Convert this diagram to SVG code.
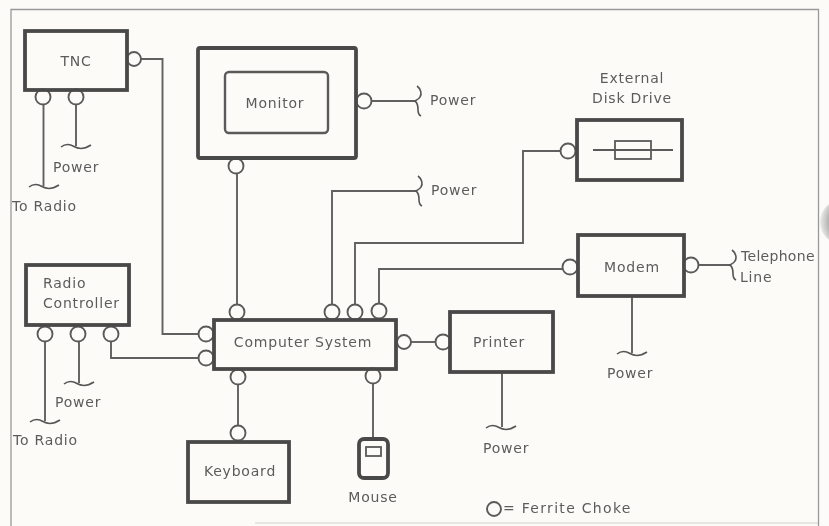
<svg xmlns="http://www.w3.org/2000/svg" width="829" height="526" viewBox="0 0 829 526">
<defs>
<filter id="soft" x="0" y="0" width="829" height="526" filterUnits="userSpaceOnUse"><feGaussianBlur stdDeviation="0.5"/></filter>
<radialGradient id="tab" cx="0.75" cy="0.5" r="0.75"><stop offset="0" stop-color="#7f7f7d"/><stop offset="0.6" stop-color="#969694"/><stop offset="1" stop-color="#ecece8"/></radialGradient>
<path id="sq" d="M-15 1c5-4 9-3 13-.5c5 3 10 3 17-1.500" fill="none"/>
<path id="brace" d="M2-15C6-12 7-7 5-4C4-2 2-1 0 0C3 2 3 6 3 9C3 12 4 14 6 15" fill="none"/>
</defs>
<style>
.box{fill:none;stroke:#4a4a4a;stroke-width:3.800}
.thin{fill:none;stroke:#5a5a5a;stroke-width:1.800}
.ln{fill:none;stroke:#606060;stroke-width:1.900;stroke-linejoin:miter}
.ck{fill:#fcfbf8;stroke:#5a5a5a;stroke-width:1.900}
use.s{stroke:#555;stroke-width:1.600}
text{font-family:"DejaVu Sans","Liberation Sans",sans-serif;font-size:14px;fill:#5c5c5c;letter-spacing:.8px}
.m{text-anchor:middle}
</style>
<rect width="829" height="526" fill="#fcfbf8"/>
<g filter="url(#soft)">
<circle cx="842" cy="222" r="22" fill="url(#tab)"/>
<path id="frame" d="M11 526V9.500H818.500V526" fill="none" stroke="#999" stroke-width="1.300"/>
<path d="M255 523H818" fill="none" stroke="#d0d0cc" stroke-width="1"/>
<g id="connectors">
<path class="ln" d="M140 59H162.500V334H200"/>
<path class="ln" d="M43.500 103V186"/>
<path class="ln" d="M76 103V146"/>
<path class="ln" d="M237 172V306"/>
<path class="ln" d="M371 101H415"/>
<path class="ln" d="M332 306V191H416"/>
<path class="ln" d="M355 306V243H523V151H561"/>
<path class="ln" d="M379 305V269H563"/>
<path class="ln" d="M698 265H731"/>
<path class="ln" d="M632 296V353"/>
<path class="ln" d="M410 342H437"/>
<path class="ln" d="M502 372V427"/>
<path class="ln" d="M238 384V427"/>
<path class="ln" d="M373 383V439"/>
<path class="ln" d="M45 341V421"/>
<path class="ln" d="M79 341V383"/>
<path class="ln" d="M111 341V358H200"/>
<use class="s" href="#sq" x="44" y="186"/>
<use class="s" href="#sq" x="76" y="146"/>
<use class="s" href="#sq" x="45" y="421"/>
<use class="s" href="#sq" x="79" y="383"/>
<use class="s" href="#sq" x="632" y="353"/>
<use class="s" href="#sq" x="501" y="427"/>
<use class="s" href="#brace" x="415" y="101"/>
<use class="s" href="#brace" x="416" y="191"/>
<use class="s" href="#brace" x="730" y="265"/>
</g>
<g id="tnc"><circle class="ck" cx="134" cy="59" r="7"/><circle class="ck" cx="43" cy="97" r="7.500"/><circle class="ck" cx="76" cy="97" r="7.500"/><rect class="box" x="25" y="31" width="102" height="59"/><text class="m" x="76" y="66">TNC</text></g>
<g id="monitor"><circle class="ck" cx="236" cy="166" r="7.500"/><circle class="ck" cx="364" cy="101" r="7.500"/><rect class="box" x="198" y="48" width="158" height="110" rx="2"/><rect class="thin" x="225" y="72" width="103" height="61" rx="4" style="stroke-width:2.400"/><text class="m" x="275" y="108">Monitor</text></g>
<g id="radio-controller"><circle class="ck" cx="45" cy="334" r="7.500"/><circle class="ck" cx="78" cy="334" r="7.500"/><circle class="ck" cx="111" cy="334" r="7.500"/><rect class="box" x="26" y="265" width="103" height="60"/><text x="43" y="288">Radio</text><text x="43" y="308">Controller</text></g>
<g id="computer-system"><circle class="ck" cx="206" cy="334" r="7.500"/><circle class="ck" cx="206" cy="358" r="7.500"/><circle class="ck" cx="237" cy="312" r="7.500"/><circle class="ck" cx="332" cy="312" r="7.500"/><circle class="ck" cx="355" cy="312" r="7.500"/><circle class="ck" cx="379" cy="311" r="7.500"/><circle class="ck" cx="404" cy="342" r="7"/><circle class="ck" cx="238" cy="377" r="7.500"/><circle class="ck" cx="373" cy="376" r="7.500"/><rect class="box" x="214" y="320" width="182" height="49"/><text class="m" x="303" y="347">Computer System</text></g>
<g id="keyboard"><circle class="ck" cx="238" cy="433" r="7.500"/><rect class="box" x="188" y="442" width="101" height="60"/><text class="m" x="240" y="476">Keyboard</text></g>
<g id="mouse"><rect class="box" x="359" y="439" width="29" height="39" rx="5"/><rect class="thin" x="366" y="447" width="15" height="9"/><text class="m" x="373" y="502">Mouse</text></g>
<g id="printer"><circle class="ck" cx="443" cy="342" r="7.500"/><rect class="box" x="450" y="312" width="103" height="60"/><text class="m" x="499" y="347">Printer</text></g>
<g id="disk-drive"><circle class="ck" cx="568" cy="151" r="7.500"/><rect class="box" x="577" y="120" width="105" height="60"/><path class="thin" d="M593 150H673"/><rect class="thin" x="615" y="141" width="36" height="18"/><text class="m" x="632" y="83">External</text><text class="m" x="632" y="103">Disk Drive</text></g>
<g id="modem"><circle class="ck" cx="570" cy="267" r="7.500"/><circle class="ck" cx="691" cy="265" r="7.500"/><rect class="box" x="578" y="235" width="106" height="61"/><text class="m" x="632" y="272">Modem</text></g>
<g id="labels">
<text x="53" y="172">Power</text><text x="12" y="211">To Radio</text>
<text x="430" y="105">Power</text><text x="431" y="195">Power</text>
<text x="55" y="407">Power</text><text x="13" y="445">To Radio</text>
<text x="607" y="378">Power</text><text x="483" y="453">Power</text>
<text x="741" y="261" style="letter-spacing:.3px">Telephone</text><text x="740" y="282">Line</text>
</g>
<g id="legend"><circle class="ck" cx="494" cy="509" r="7"/><text x="503" y="513" style="letter-spacing:1.300px">= Ferrite Choke</text></g>
</g>
</svg>
